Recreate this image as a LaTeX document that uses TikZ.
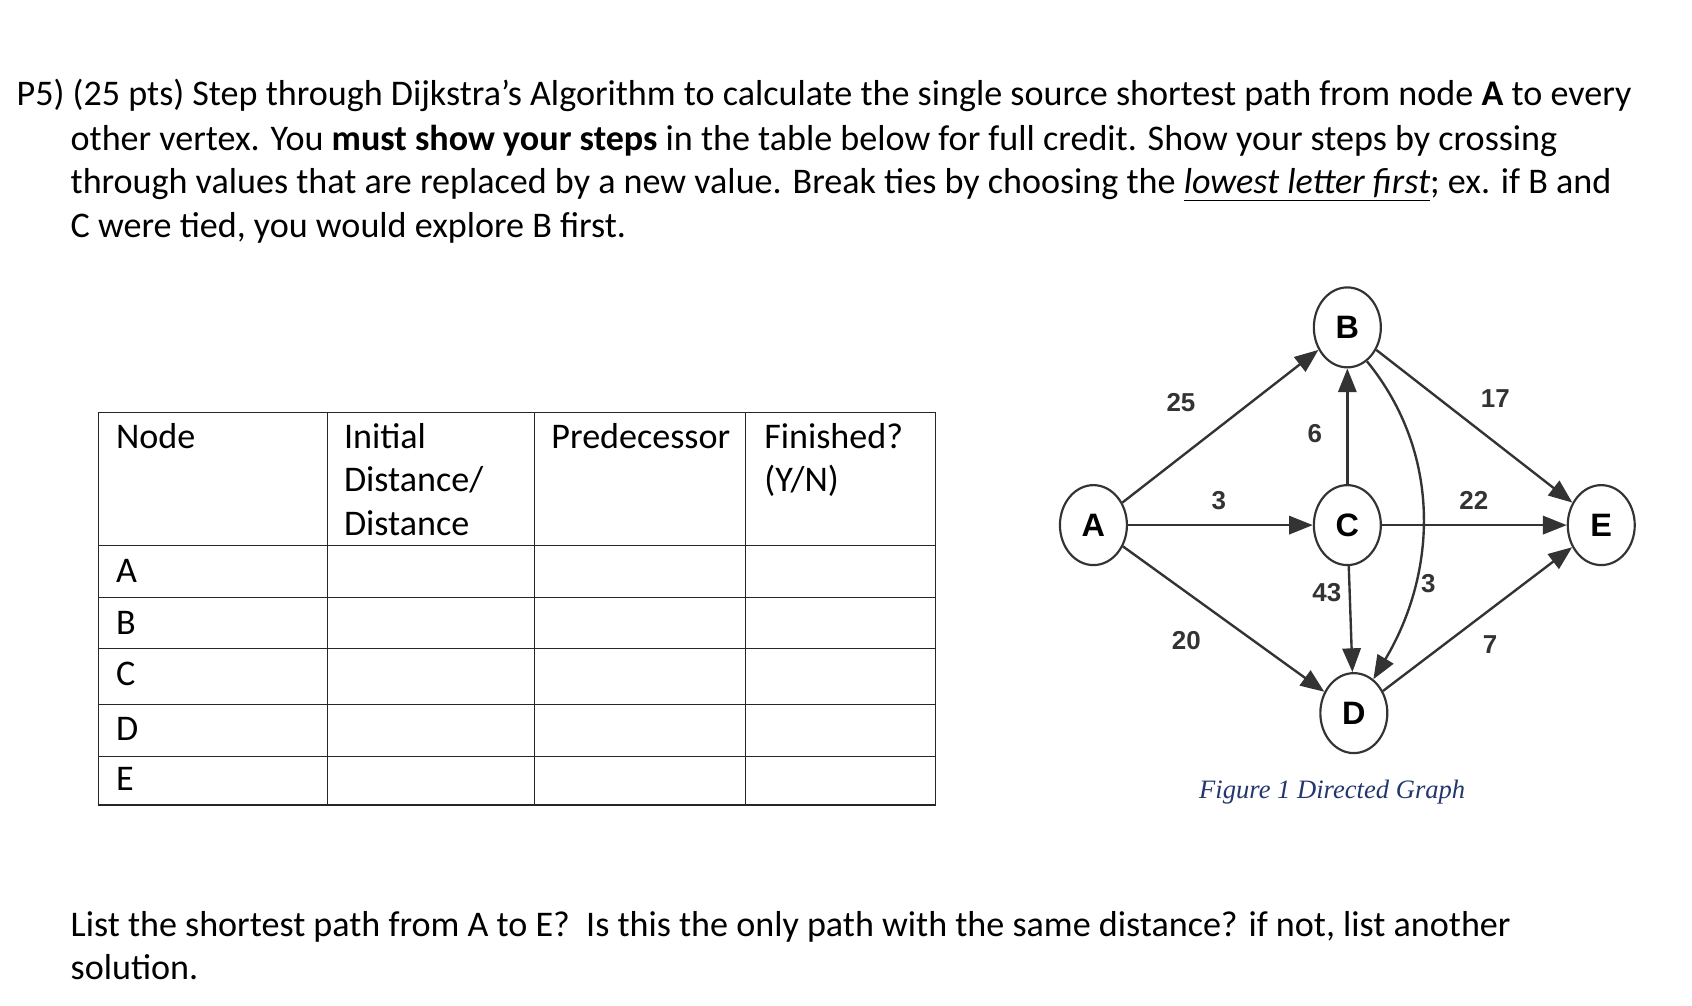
\documentclass[tikz,border=0pt]{standalone}
\usepackage{fontspec}
\setmainfont{Carlito}
\newfontfamily\arialf{Liberation Sans}
\newfontfamily\timesf{Liberation Serif}
\usetikzlibrary{arrows.meta,shapes.geometric}
\definecolor{capblue}{RGB}{35,55,110}
\begin{document}
\begin{tikzpicture}[x=0.5pt,y=-0.5pt,
  txt/.style={anchor=base west,inner sep=0pt,font=\fontsize{16.7}{19}\selectfont},
  gnode/.style={draw=black!80,line width=1pt,ellipse,minimum width=31pt,minimum height=37pt,inner sep=0pt,font=\arialf\bfseries\fontsize{15}{17}\selectfont},
  wt/.style={font=\arialf\bfseries\fontsize{12}{14}\selectfont,text=black!80,inner sep=1pt},
  edge/.style={draw=black!80,line width=1.1pt,-{Triangle[length=11pt,width=8.5pt]}},
  cell/.style={draw=black!85,line width=0.6pt}]
\useasboundingbox (0,0) rectangle (1566,931);
% paragraph
\node[txt] (l1) at (15,98) {P5) (25 pts) Step through Dijkstra’s Algorithm to calculate the single source shortest path from node \textbf{A} to every};
\node[txt] (l2) at (65,139) {other vertex. You \textbf{must show your steps} in the table below for full credit. Show your steps by crossing};
\node[txt] (l3) at (65,179) {through values that are replaced by a new value. Break ties by choosing the \underline{\emph{lowest letter first}}; ex. if B and};
\node[txt] (l4) at (65,220) {C were tied, you would explore B first.};
% table
\draw[cell] (91,382) rectangle (866,745);
\foreach \y in {505,553,600,652,700} \draw[cell] (91,\y) -- (866,\y);
\foreach \x in {303,495,690} \draw[cell] (\x,382) -- (\x,745);
\node[txt] (h1) at (107,415) {Node};
\node[txt] (h2) at (318,415) {Initial};
\node[txt] (h2b) at (318,455) {Distance/};
\node[txt] (h2c) at (318,496) {Distance};
\node[txt] (h3) at (510,415) {Predecessor};
\node[txt] (h4) at (707,415) {Finished?};
\node[txt] (h4b) at (707,455) {(Y/N)};
\node[txt] (ra) at (107,539) {A};
\node[txt] (rb) at (107,587) {B};
\node[txt] (rc) at (107,634) {C};
\node[txt] (rd) at (107,685) {D};
\node[txt] (re) at (107,732) {E};
% graph
\node[gnode] (A) at (1012,486) {A};
\node[gnode] (B) at (1247,303) {B};
\node[gnode] (C) at (1247,486) {C};
\node[gnode] (D) at (1253,660) {D};
\node[gnode] (E) at (1482,486) {E};
\draw[edge] (A) -- (B);
\draw[edge] (A) -- (C);
\draw[edge] (A) -- (D);
\draw[edge] (C) -- (B);
\draw[edge] (C) -- (E);
\draw[edge] (C) -- (D);
\draw[edge] (B) -- (E);
\draw[edge] (D) -- (E);
\draw[edge] (B.-60) .. controls (1335,420) and (1330,530) .. (D.60);
\node[wt] (w1) at (1093,373) {25};
\node[wt] (w2) at (1384,369) {17};
\node[wt] (w3) at (1217,401) {6};
\node[wt] (w4) at (1128,463) {3};
\node[wt] (w5) at (1364,463) {22};
\node[wt] (w6) at (1228,548) {43};
\node[wt] (w7) at (1322,540) {3};
\node[wt] (w8) at (1098,593) {20};
\node[wt] (w9) at (1379,597) {7};
\node[font=\timesf\itshape\fontsize{12.3}{14}\selectfont,text=capblue] (cap) at (1233,733) {Figure 1 Directed Graph};
% bottom
\node[txt] (q1) at (65,867) {List the shortest path from A to E?\ \ Is this the only path with the same distance? if not, list another};
\node[txt] (q2) at (65,907) {solution.};
\end{tikzpicture}
\end{document}
